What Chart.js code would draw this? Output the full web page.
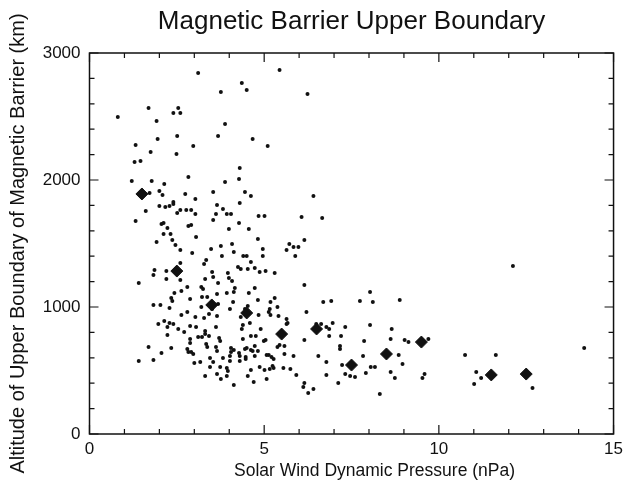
<!DOCTYPE html>
<html>
<head>
<meta charset="utf-8">
<script src="https://cdn.jsdelivr.net/npm/chart.js@4.4.0/dist/chart.umd.min.js"></script>
<style>
  html, body { margin: 0; padding: 0; background: #fff; }
</style>
</head>
<body>
<canvas id="barrierChart" width="628" height="493"></canvas>
<script>
// individual crossings: solar wind pressure (nPa) and barrier upper boundary altitude (km)
const pressure = [
  3.11, 4.36, 4.50, 3.76, 1.69, 2.54, 2.40, 2.60, 0.81, 1.92, 3.88, 5.44, 6.24,
  1.95, 2.51, 1.32, 2.97, 1.75, 2.49, 1.29, 1.46, 1.21, 1.78, 2.83, 2.14, 1.72, 2.00, 2.09, 2.74,
  3.54, 3.03, 2.40, 2.40, 2.00, 2.17, 2.29, 2.60, 2.77, 2.91, 2.51, 3.03, 1.61, 1.32, 2.06, 2.12,
  2.23, 2.83, 2.91, 3.54,
  3.68, 4.67, 5.10, 4.30, 4.28, 3.88, 4.45, 4.62, 6.41, 4.30, 3.65, 3.82, 3.62, 3.93, 4.05, 4.84,
  5.01, 6.07, 6.66, 3.99, 4.56, 4.28,
  2.12, 2.32, 2.37, 1.92, 2.46, 3.05, 2.60, 2.94, 3.48, 3.34, 3.28, 2.60, 2.20, 1.86, 1.83, 2.20,
  2.60, 3.51, 3.54, 3.31, 1.41, 2.80, 2.63, 2.43, 3.20, 3.25, 2.34, 2.37, 2.88, 3.22, 3.37, 1.83,
  2.03, 2.29, 3.20, 2.63, 2.80, 3.03, 3.28, 3.42, 1.97, 2.14, 2.29, 2.40,
  4.82, 5.72, 6.15, 5.84, 5.98, 5.64, 5.89, 3.76, 4.08, 3.79, 4.13, 4.40, 4.50, 4.96, 4.96, 4.62,
  4.25, 4.33, 4.53, 4.73, 4.87, 5.04, 5.30, 3.96, 3.99, 4.08, 3.68, 4.16, 4.73, 3.65, 3.93, 4.13,
  4.56, 6.15, 4.82, 5.30, 5.18, 4.11, 6.69, 3.68, 3.51, 4.02, 5.38, 5.16, 4.53, 4.45, 4.33, 4.59,
  4.84, 5.13, 5.18, 5.41, 5.64, 5.67, 6.21, 6.49, 6.63, 3.65,
  2.23, 2.54, 2.71, 2.88, 3.05, 3.31, 3.31, 2.23, 2.88, 3.11, 3.22, 3.42, 2.88, 3.34, 3.37, 1.69,
  2.34, 2.80, 2.83, 2.91, 2.97, 2.06, 3.45, 3.54, 1.41, 1.83, 3.00, 3.17, 3.45, 3.31,
  3.62, 4.39, 4.36, 4.90, 5.64, 6.78, 3.71, 3.74, 4.62, 4.76, 4.39, 4.99, 5.04, 6.15, 3.62, 3.65,
  4.05, 4.05, 4.13, 4.28, 4.30, 4.45, 4.50, 4.62, 4.67, 4.73, 4.82, 5.44, 5.38, 5.58, 3.82, 4.02,
  4.02, 4.30, 4.47, 4.47, 4.73, 5.07, 5.13, 5.21, 5.27, 5.58, 5.84, 6.55, 6.78, 3.74, 3.93, 3.96,
  4.62, 4.87, 5.01, 5.16, 5.24, 5.27, 5.55, 5.75, 3.65, 3.93, 3.76, 4.53, 4.70, 5.07, 5.92, 6.78,
  4.13, 6.15, 6.12, 6.26, 6.41,
  6.92, 6.96, 6.86, 6.86, 7.32, 7.20, 7.17, 7.17, 7.12, 7.23, 7.32, 7.46, 7.60, 7.74, 8.03, 8.11,
  8.03, 7.86, 7.83, 7.91, 8.05, 8.17, 8.31, 8.65, 8.62, 8.88, 8.85, 8.96, 8.62, 8.74, 9.02, 9.13,
  9.70, 9.59, 9.53,
  12.12, 10.75, 11.63, 11.07, 11.21, 11.01, 12.68, 14.16
];
const altitude = [
  2843, 2764, 2709, 2693, 2567, 2567, 2528, 2528, 2496, 2465, 2441, 2866, 2677,
  2323, 2346, 2276, 2268, 2220, 2205, 2142, 2150, 1992, 1992, 2024, 1969, 1898, 1913, 1882, 1890,
  1906, 1850, 1827, 1811, 1795, 1787, 1795, 1764, 1764, 1764, 1740, 1732, 1756, 1677, 1654, 1661,
  1622, 1638, 1646, 1685,
  2346, 2323, 2268, 2094, 2008, 1984, 1906, 1874, 1874, 1819, 1803, 1772, 1732, 1732, 1732, 1717,
  1717, 1709, 1701, 1614, 1614, 1661,
  1575, 1575, 1528, 1512, 1488, 1551, 1449, 1425, 1457, 1370, 1339, 1346, 1283, 1291, 1252, 1220,
  1213, 1276, 1236, 1220, 1189, 1157, 1126, 1110, 1157, 1142, 1071, 1047, 1063, 1079, 1079, 1016,
  1016, 992, 1000, 937, 961, 921, 913, 945, 866, 890, 874, 866,
  1535, 1496, 1528, 1472, 1472, 1449, 1402, 1480, 1496, 1402, 1433, 1402, 1402, 1457, 1402, 1354,
  1315, 1299, 1299, 1307, 1276, 1283, 1268, 1268, 1228, 1205, 1189, 1150, 1150, 1102, 1110, 1118,
  1110, 1173, 1055, 1071, 1039, 1039, 1039, 1024, 984, 984, 1000, 984, 1008, 984, 921, 874,
  937, 961, 937, 929, 906, 874, 961, 866, 866, 929,
  843, 827, 803, 850, 843, 811, 787, 780, 748, 764, 764, 772, 717, 709, 685, 685,
  677, 669, 646, 646, 630, 638, 598, 567, 575, 583, 559, 567, 528, 457,
  843, 858, 827, 827, 866, 843, 756, 732, 772, 772, 748, 732, 740, 740, 685, 654,
  677, 646, 661, 638, 614, 669, 677, 661, 654, 693, 654, 701, 685, 693, 598, 614,
  575, 575, 606, 591, 614, 622, 622, 606, 591, 630, 614, 614, 567, 528, 520, 496,
  504, 528, 504, 512, 535, 520, 520, 512, 472, 457, 433, 457, 409, 433, 465, 465,
  386, 402, 370, 323, 354,
  1047, 874, 827, 772, 843, 772, 693, 669, 402, 543, 472, 457, 449, 1047, 1118, 1039,
  858, 732, 614, 480, 528, 528, 315, 827, 748, 1055, 622, 551, 488, 441, 740, 724,
  748, 472, 441,
  1323, 622, 622, 488, 441, 394, 362, 677
];

// bin averages (diamonds)
const binPressure = [1.5, 2.5, 3.5, 4.5, 5.5, 6.5, 7.5, 8.5, 9.5, 11.5, 12.5];
const binAltitude = [1890, 1283, 1016, 953, 787, 827, 543, 630, 724, 465, 472];

const xTicks = [0, 5, 10, 15];
const yTicks = [0, 1000, 2000, 3000];
const X_MINOR = 1;
const Y_MINOR = 200;

const INK = '#111';
const FONT = '"Liberation Sans", Arial, sans-serif';
Chart.defaults.font.family = FONT;
Chart.defaults.color = INK;

// box round the plot with inward ticks on all four sides, plus the titles
const framePlugin = {
  id: 'frame',
  afterDraw(chart) {
    const { ctx, chartArea: a, scales: { x, y } } = chart;
    ctx.save();
    ctx.strokeStyle = INK;
    ctx.lineWidth = 1.5;
    ctx.strokeRect(a.left, a.top, a.right - a.left, a.bottom - a.top);
    ctx.lineWidth = 1.2;
    ctx.beginPath();
    for (let v = xTicks[0]; v <= xTicks[xTicks.length - 1]; v += X_MINOR) {
      const px = x.getPixelForValue(v);
      const len = xTicks.includes(v) ? 9 : 5;
      ctx.moveTo(px, a.bottom); ctx.lineTo(px, a.bottom - len);
      ctx.moveTo(px, a.top); ctx.lineTo(px, a.top + len);
    }
    for (let v = yTicks[0]; v <= yTicks[yTicks.length - 1]; v += Y_MINOR) {
      const py = y.getPixelForValue(v);
      const len = yTicks.includes(v) ? 9 : 5;
      ctx.moveTo(a.left, py); ctx.lineTo(a.left + len, py);
      ctx.moveTo(a.right, py); ctx.lineTo(a.right - len, py);
    }
    ctx.stroke();

    const mid = (a.left + a.right) / 2;
    ctx.fillStyle = INK;
    ctx.textAlign = 'center';
    ctx.textBaseline = 'middle';
    ctx.font = '26px ' + FONT;
    ctx.fillText('Magnetic Barrier Upper Boundary', mid, 22);
    ctx.font = '17.5px ' + FONT;
    ctx.fillText('Solar Wind Dynamic Pressure (nPa)', mid + 23, 471);
    ctx.restore();
  }
};

new Chart(document.getElementById('barrierChart'), {
  type: 'scatter',
  data: {
    datasets: [
      {
        label: 'Bin average',
        data: binPressure.map((p, i) => ({ x: p, y: binAltitude[i] })),
        pointStyle: 'rectRot',
        pointRadius: 6,
        backgroundColor: INK,
        borderColor: INK,
        borderWidth: 1
      },
      {
        label: 'Crossings',
        data: pressure.map((p, i) => ({ x: p, y: altitude[i] })),
        pointStyle: 'circle',
        pointRadius: 2,
        backgroundColor: INK,
        borderWidth: 0
      }
    ]
  },
  options: {
    responsive: false,
    animation: false,
    devicePixelRatio: 1,
    layout: { padding: { left: 0, right: 11, top: 53, bottom: 0 } },
    plugins: {
      legend: { display: false },
      tooltip: { enabled: false },
      title: { display: false }
    },
    scales: {
      x: {
        type: 'linear',
        min: xTicks[0],
        max: xTicks[xTicks.length - 1],
        afterBuildTicks: s => { s.ticks = xTicks.map(v => ({ value: v })); },
        afterFit: s => { s.height = 59; },
        grid: { display: false, drawTicks: false },
        border: { display: false },
        ticks: { font: { size: 17 }, padding: 5, maxRotation: 0, callback: v => String(v) }
      },
      y: {
        type: 'linear',
        min: yTicks[0],
        max: yTicks[yTicks.length - 1],
        afterBuildTicks: s => { s.ticks = yTicks.map(v => ({ value: v })); },
        afterFit: s => { s.width = 89.5; },
        grid: { display: false, drawTicks: false },
        border: { display: false },
        ticks: { font: { size: 17 }, padding: 9, callback: v => String(v) },
        title: {
          display: true,
          text: 'Altitude of Upper Boundary of Magnetic Barrier (km)',
          font: { size: 20 },
          padding: { top: 6 }
        }
      }
    }
  },
  plugins: [framePlugin]
});
</script>
</body>
</html>
